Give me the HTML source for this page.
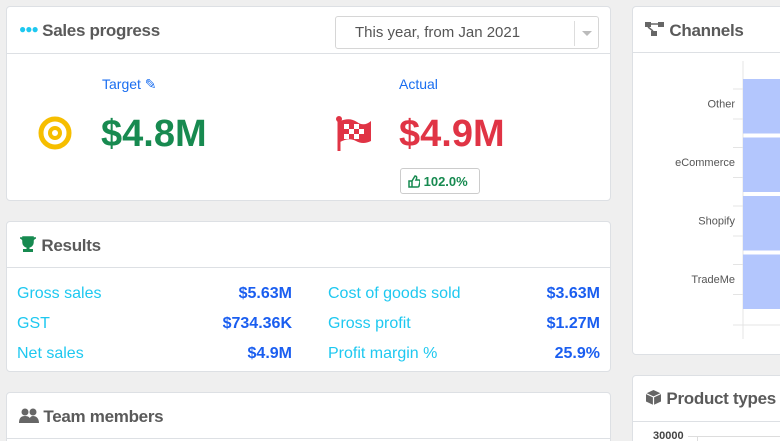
<!DOCTYPE html>
<html><head><meta charset="utf-8">
<style>
*{box-sizing:border-box;margin:0;padding:0}
html,body{width:780px;height:441px;overflow:hidden}
body{background:#efefef;font-family:"Liberation Sans",sans-serif;position:relative}
.card{position:absolute;background:#fff;border:1px solid #dde0e4;border-radius:4px;overflow:hidden}
.hdr{position:absolute;left:0;right:0;top:0;border-bottom:1px solid #dde0e4}
.ttl{position:absolute;left:12px;font-size:17px;color:#5a5a5a;white-space:nowrap;font-weight:bold;letter-spacing:-0.3px}
.lbl{position:absolute;font-size:16px;color:#1ec8f0}
.val{position:absolute;font-size:16px;color:#1a5ef0;font-weight:bold;text-align:right}
</style></head><body>

<div class="card" style="left:6px;top:6px;width:605px;height:195px">
 <div class="hdr" style="height:47px"></div>
 <div class="ttl" style="top:14px"><span style="color:#1ec8f0;font-size:12px;letter-spacing:-1px;position:relative;top:-3px">●●●</span> Sales progress</div>
 <div style="position:absolute;left:328px;top:9px;width:264px;height:33px;border:1px solid #d6d6d6;border-radius:3px">
  <div style="position:absolute;left:19px;top:7px;font-size:15px;color:#555">This year, from Jan 2021</div>
  <div style="position:absolute;left:238px;top:4px;width:1px;height:25px;background:#ddd"></div>
  <div style="position:absolute;left:246px;top:14px;border-left:5px solid transparent;border-right:5px solid transparent;border-top:5px solid #bbb"></div>
 </div>
 <div style="position:absolute;left:95px;top:69px;font-size:14px;color:#1a6ef0">Target ✎</div>
 <svg style="position:absolute;left:30px;top:108px" width="36" height="36"><circle cx="18" cy="18" r="14" fill="none" stroke="#f6be00" stroke-width="5"/><circle cx="18" cy="18" r="5" fill="none" stroke="#f6be00" stroke-width="4"/></svg>
 <div style="position:absolute;left:94px;top:106px;font-size:38px;font-weight:bold;color:#178a50">$4.8M</div>
 <div style="position:absolute;left:392px;top:69px;font-size:14px;color:#1a6ef0">Actual</div>
 <svg style="position:absolute;left:328px;top:108px" width="38" height="40"><circle cx="4" cy="4" r="3" fill="#e03445"/><rect x="2.5" y="4" width="3" height="32" fill="#e03445"/><path d="M5 6 Q15 2 22 7 T36 6 V26 Q28 30 21 26 T5 27Z" fill="#e03445"/><g fill="#fff"><rect x="9" y="9" width="5" height="5"/><rect x="19" y="9" width="5" height="5"/><rect x="14" y="14" width="5" height="5"/><rect x="24" y="14" width="5" height="5"/><rect x="9" y="19" width="5" height="5"/><rect x="19" y="19" width="5" height="5"/></g></svg>
 <div style="position:absolute;left:392px;top:106px;font-size:38px;font-weight:bold;color:#e03445">$4.9M</div>
 <div style="position:absolute;left:393px;top:161px;width:80px;height:26px;border:1px solid #ccc;border-radius:3px;font-size:13px;font-weight:bold;color:#178a50;padding:5px 0 0 7px"><svg width="12" height="13" style="vertical-align:-2px"><path d="M1 6h3v6H1z M4 6l3-5c2 0 2 2 1 4h3c1 0 1 1 1 2l-1 4c0 1-1 1-2 1H4" fill="none" stroke="#178a50" stroke-width="1.5"/></svg> 102.0%</div>
</div>

<div class="card" style="left:6px;top:221px;width:605px;height:151px">
 <div class="hdr" style="height:46px"></div>
 <div class="ttl" style="top:14px"><svg width="18" height="17" style="vertical-align:-2px"><path d="M4 1h10v5c0 3-2 5-5 5S4 9 4 6z M1 2h3v2c0 2 1 3 3 4 M17 2h-3v2c0 2-1 3-3 4" fill="#178a50" stroke="#178a50" stroke-width="1.5"/><rect x="7.5" y="10" width="3" height="3" fill="#178a50"/><rect x="4" y="13" width="10" height="3" fill="#178a50"/></svg> Results</div>
 <div class="lbl" style="left:10px;top:63px">Gross sales</div>
 <div class="val" style="left:150px;width:135px;top:63px">$5.63M</div>
 <div class="lbl" style="left:10px;top:93px">GST</div>
 <div class="val" style="left:150px;width:135px;top:93px">$734.36K</div>
 <div class="lbl" style="left:10px;top:123px">Net sales</div>
 <div class="val" style="left:150px;width:135px;top:123px">$4.9M</div>
 <div class="lbl" style="left:321px;top:63px">Cost of goods sold</div>
 <div class="val" style="left:450px;width:143px;top:63px">$3.63M</div>
 <div class="lbl" style="left:321px;top:93px">Gross profit</div>
 <div class="val" style="left:450px;width:143px;top:93px">$1.27M</div>
 <div class="lbl" style="left:321px;top:123px">Profit margin %</div>
 <div class="val" style="left:450px;width:143px;top:123px">25.9%</div>
</div>

<div class="card" style="left:6px;top:392px;width:605px;height:60px">
 <div class="hdr" style="height:46px"></div>
 <div class="ttl" style="top:14px"><svg width="20" height="15" style="vertical-align:-1px"><circle cx="6" cy="4" r="3.5" fill="#666"/><circle cx="14" cy="4" r="3.5" fill="#666"/><path d="M0 15c0-5 2-7 6-7s6 2 6 7z M10 15c0-4 1-7 4-7s6 2 6 7z" fill="#666"/></svg> Team members</div>
</div>

<div class="card" style="left:632px;top:6px;width:160px;height:349px">
 <div class="hdr" style="height:46px"></div>
 <div class="ttl" style="top:14px"><svg width="20" height="16" style="vertical-align:-1px"><rect x="0" y="1" width="6" height="5" fill="#666"/><rect x="13" y="1" width="6" height="5" fill="#666"/><rect x="6" y="10" width="6" height="5" fill="#666"/><path d="M6 3h7 M3 6l5 4" stroke="#666" stroke-width="1.5"/></svg> Channels</div>
 <svg id="chan" style="position:absolute;left:-633px;top:-7px" width="800" height="360"></svg>
</div>

<div class="card" style="left:632px;top:375px;width:160px;height:80px">
 <div class="hdr" style="height:46px"></div>
 <div class="ttl" style="top:13px"><svg width="17" height="17" style="vertical-align:-2px"><path d="M8.5 1L16 4.5V12.5L8.5 16L1 12.5V4.5Z" fill="#666"/><path d="M1 4.5L8.5 8L16 4.5 M8.5 8V16" stroke="#fff" stroke-width="1.2" fill="none"/></svg> Product types</div>
 <div style="position:absolute;left:20px;top:54px;font-size:11px;color:#444;font-weight:bold">30000</div>
 <div style="position:absolute;left:55px;top:60px;width:110px;height:1px;background:#ddd"></div>
 <div style="position:absolute;left:64px;top:60px;width:1px;height:20px;background:#ddd"></div>
</div>

<script>
const channelNames=["Other","eCommerce","Shopify","TradeMe"];
const channelValues=[1200000,1150000,1180000,1250000];
const chanSvg=document.getElementById('chan');
const NS='http://www.w3.org/2000/svg';
const axisX=743,plotTop=61,plotBottom=325,maxV=1000000,xw=300;
const band=(plotBottom-plotTop-30)/channelNames.length;
function xs(v){return axisX+v/maxV*xw;}
function ys(i){return plotTop+17+i*band;}
function mk(t,a){const e=document.createElementNS(NS,t);for(const k in a)e.setAttribute(k,a[k]);chanSvg.appendChild(e);return e;}
const ax=mk('line',{x1:axisX,x2:axisX,y1:plotTop,y2:plotBottom+14,stroke:'#e4e4e4'});


const bx=mk('line',{x1:733,x2:800,y1:plotBottom,y2:plotBottom,stroke:'#e4e4e4'});


channelNames.forEach((n,i)=>{
 const y=ys(i);
 const r=mk('rect',{x:axisX,y:y+1,width:xs(channelValues[i])-axisX,height:band-4,fill:'#b3c6fd'});
 
 
 mk('line',{x1:733,x2:axisX,y1:y+11,y2:y+11,stroke:'#e4e4e4'});
 mk('line',{x1:733,x2:axisX,y1:y+41,y2:y+41,stroke:'#e4e4e4'});
 const t=mk('text',{x:735,y:y+band/2,'text-anchor':'end','font-size':'11','fill':'#555','font-family':'Liberation Sans, sans-serif'});
 t.textContent=n;
 
 
});
</script>
</body></html>
